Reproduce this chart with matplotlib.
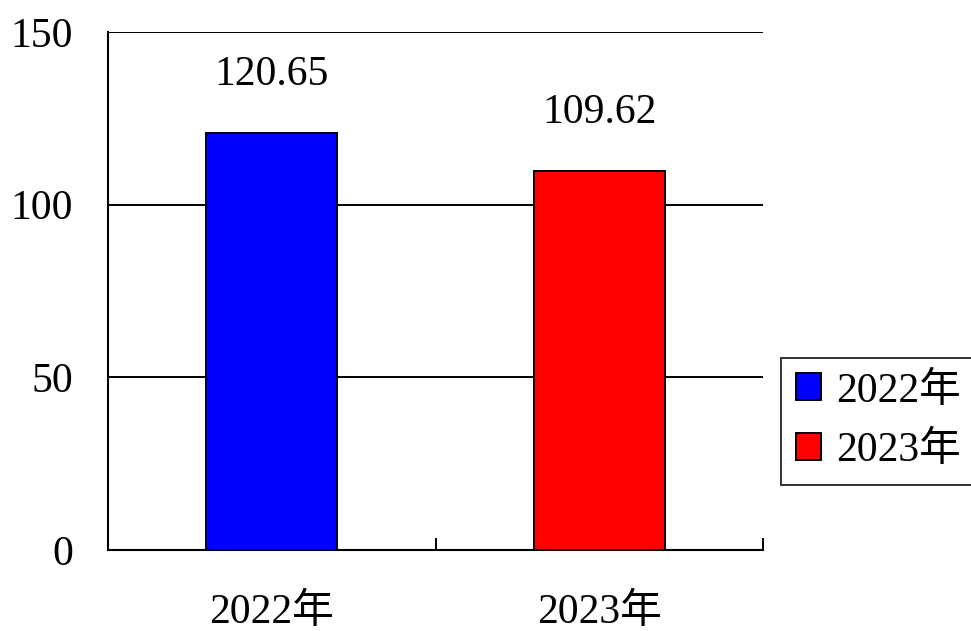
import numpy as np
import matplotlib.pyplot as plt
from matplotlib.patches import Patch

# data
years = ['2022年', '2023年']
values = [120.65, 109.62]
colors = ['#0000ff', '#ff0000']
y_ticks = [0, 50, 100, 150]

plt.rcParams['font.family'] = ['Liberation Serif', 'Noto Sans CJK SC']

fig = plt.figure(figsize=(9.71, 6.31), dpi=100)
ax = fig.add_axes([108 / 971, 1 - 550 / 631, (763 - 108) / 971, (550 - 32) / 631])

x = np.arange(len(years))
bars = ax.bar(x, values, width=0.4, color=colors, edgecolor='black', linewidth=1.4, zorder=3)

for xi, v in zip(x, values):
    ax.text(xi, v + 17.0, f'{v:.2f}', ha='center', va='center', fontsize=30)

ax.set_xlim(-0.5, len(years) - 0.5)
ax.set_ylim(0, 150)
ax.set_yticks(y_ticks)
ax.set_yticklabels([str(t) for t in y_ticks], fontsize=30)
ax.tick_params(axis='y', length=0, pad=25)

ax.set_xticks(x)
ax.set_xticklabels(years, fontsize=30)
ax.tick_params(axis='x', which='major', length=0, pad=31)
ax.set_xticks([0.5, 1.5], minor=True)
ax.tick_params(axis='x', which='minor', direction='in', length=9, width=1.4, color='black')

ax.grid(axis='y', color='black', linewidth=1.4, zorder=0)
ax.set_axisbelow(True)
for s in ['top', 'right']:
    ax.spines[s].set_visible(False)
for s in ['left', 'bottom']:
    ax.spines[s].set_linewidth(1.5)
    ax.spines[s].set_color('black')

handles = [Patch(facecolor=c, edgecolor='black', linewidth=1.4, label=l) for c, l in zip(colors, years)]
leg = fig.legend(handles=handles, loc='center left', bbox_to_anchor=(781 / 971, 1 - 421 / 631),
                 fontsize=30, frameon=True, fancybox=False, edgecolor='black',
                 handlelength=0.62, handleheight=0.62, handletextpad=0.35,
                 borderpad=0.35, labelspacing=0.5, borderaxespad=0)
leg.get_frame().set_linewidth(1.4)

fig.savefig('out.png', dpi=100)
